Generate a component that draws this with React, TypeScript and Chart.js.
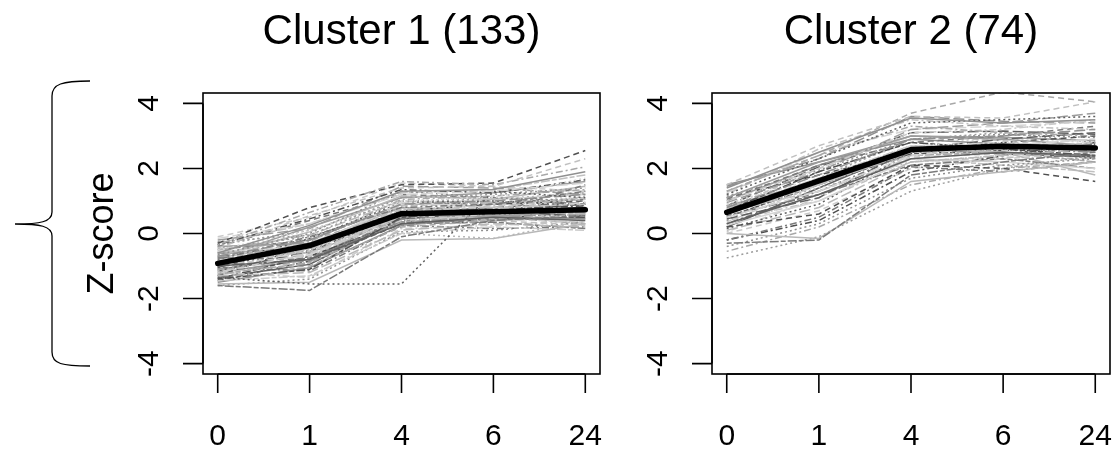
import React, { useEffect, useRef } from "react";
import { Chart, registerables } from "chart.js";

Chart.register(...registerables);

const timeLabels = ["0", "1", "4", "6", "24"];
const yTicks = [-4, -2, 0, 2, 4];
const cluster1Title = "Cluster 1 (133)";
const cluster2Title = "Cluster 2 (74)";
const yAxisTitle = "Z-score";

const cluster1Mean = [-0.92, -0.37, 0.61, 0.67, 0.73];
const cluster2Mean = [0.65, 1.62, 2.58, 2.68, 2.63];

const cluster1Profiles = [
  [-0.6, 0.25, 1.3, 1.35, 1.9],
  [-0.45, 0.55, 1.4, 1.45, 2.3],
  [-1.35, -1.55, -1.55, 1.3, 1.1],
  [-0.35, 0.65, 1.6, 1.5, 2.05],
  [-0.15, 0.3, 1.2, 1.3, 1.55],
  [-1.6, -1.75, -0.1, 0.4, 0.55],
  [-1.55, -1.5, -0.2, -0.15, 0.3],
  [-0.3, 0.8, 1.5, 1.55, 2.55],
  [-0.25, -0.05, 1.1, 1.2, 1.4],
  [-1.2, -0.6, 0.4, 0.6, 0.7],
  [-0.7, -0.2, 0.9, 1.0, 1.2],
  [-0.9, -0.4, 0.7, 0.8, 0.9],
  [-1.0, -0.8, 0.3, 0.5, 0.4],
  [-1.1, -1.0, 0.2, 0.4, 0.6],
  [-0.5, 0.1, 1.0, 1.1, 1.7],
  [-0.8, -0.1, 0.8, 0.9, 1.3],
  [-1.3, -1.2, 0.1, 0.3, 0.2],
  [-1.4, -1.1, 0.5, 0.7, 0.9],
  [-0.4, -0.3, 0.6, 0.5, 0.8],
  [-0.95, -0.7, 0.55, 0.45, 0.35],
  [-0.65, 0.0, 1.3, 1.1, 1.0],
  [-0.85, -0.5, 0.75, 0.85, 1.05],
  [-1.05, -0.3, 0.65, 0.75, 0.5],
  [-1.25, -0.9, 0.35, 0.55, 0.65],
  [-0.55, -0.4, 0.95, 0.8, 0.6],
  [-0.75, -0.8, 0.45, 0.6, 1.5],
  [-1.15, -0.45, 0.85, 0.95, 1.1],
  [-0.35, 0.45, 1.35, 1.25, 1.65],
  [-0.2, 0.15, 1.45, 1.4, 1.2],
  [-1.45, -1.3, 0.0, 0.2, 0.1],
  [-1.5, -1.05, 0.25, 0.5, 0.45],
  [-0.9, -0.55, 0.5, 0.4, 0.25],
  [-1.0, -0.15, 0.95, 1.0, 0.85],
  [-0.6, -0.25, 1.05, 1.15, 1.35],
  [-0.8, -0.65, 0.6, 0.7, 0.95],
  [-1.1, -0.75, 0.3, 0.35, 0.15],
  [-0.7, 0.05, 1.15, 1.05, 1.45],
  [-1.3, -0.35, 0.7, 0.9, 1.0],
  [-0.45, -0.1, 0.8, 0.65, 0.55],
  [-1.2, -1.35, 0.15, 0.25, 0.4],
  [-0.95, -0.85, 0.4, 0.45, 0.75],
  [-0.3, 0.3, 1.25, 1.35, 1.8],
  [-1.35, -0.95, 0.45, 0.65, 0.8],
  [-0.85, -0.2, 0.65, 0.5, 0.3],
  [-0.65, -0.5, 0.55, 0.7, 1.25],
  [-1.05, -1.15, 0.25, 0.15, 0.2],
  [-0.5, -0.05, 1.0, 0.95, 0.65],
  [-1.4, -0.7, 0.35, 0.45, 0.5],
  [-0.75, 0.2, 1.1, 1.25, 1.6],
  [-0.1, 0.5, 1.55, 1.45, 1.3],
  [-1.6, -1.4, 0.05, 0.1, 0.35],
  [-0.9, -0.3, 0.75, 0.65, 1.15],
  [-1.15, -0.55, 0.6, 0.8, 0.95],
  [-0.55, -0.6, 0.5, 0.55, 0.45],
  [-1.25, -0.45, 0.9, 1.05, 1.2],
  [-0.4, 0.4, 1.2, 1.1, 0.9],
  [-1.0, -0.9, 0.0, -0.15, 0.4],
  [-0.7, -0.35, 0.7, 0.75, 0.85],
  [-1.1, -0.6, 0.5, 0.55, 0.6],
  [-0.8, -0.45, 0.45, 0.5, 0.7],
  [-1.2, -0.8, 0.6, 0.7, 0.75],
  [-0.6, -0.15, 0.85, 0.9, 1.1],
  [-1.0, -0.5, 0.65, 0.6, 0.55],
  [-0.9, -0.95, 0.55, 0.6, 0.8],
  [-1.3, -0.65, 0.4, 0.5, 0.6],
  [-0.5, -0.2, 0.9, 0.95, 1.05],
  [-0.75, -0.3, 0.8, 0.7, 0.65],
  [-1.45, -0.85, 0.3, 0.45, 0.7],
  [-0.35, 0.1, 1.0, 1.05, 1.25],
  [-1.05, -0.4, 0.55, 0.75, 0.9],
  [-0.6, -0.7, 0.35, 0.4, 0.5],
  [-1.25, -1.05, 0.45, 0.55, 0.3],
];

const cluster2Profiles = [
  [1.4, 2.5, 3.55, 3.4, 3.5],
  [1.5, 2.7, 3.6, 3.55, 4.05],
  [1.2, 2.3, 3.4, 3.5, 3.6],
  [1.3, 2.4, 3.3, 3.1, 3.0],
  [0.5, 1.3, 2.4, 2.7, 2.9],
  [-0.3, -0.2, 1.8, 2.2, 2.5],
  [0.0, -0.15, 1.6, 1.9, 2.2],
  [0.2, 0.6, 2.1, 2.0, 1.6],
  [-0.75, -0.1, 1.3, 2.0, 2.4],
  [1.0, 2.0, 3.1, 3.2, 3.5],
  [0.8, 1.8, 2.9, 3.0, 3.2],
  [0.6, 1.5, 2.5, 2.6, 2.8],
  [0.3, 1.2, 2.3, 2.5, 2.4],
  [1.3, 2.4, 3.7, 4.35, 4.05],
  [0.9, 1.7, 2.7, 2.8, 2.6],
  [-0.2, 0.5, 2.05, 1.9, 2.2],
  [0.1, 0.8, 2.2, 2.4, 2.6],
  [0.7, 1.9, 2.8, 2.6, 2.4],
  [1.1, 2.2, 3.0, 2.9, 2.7],
  [0.0, 0.7, 2.0, 2.3, 2.5],
  [-0.4, 0.3, 1.7, 2.1, 2.3],
  [1.2, 2.6, 3.5, 3.3, 3.2],
  [0.45, 1.1, 2.6, 2.9, 3.1],
  [0.85, 1.6, 2.4, 2.5, 2.2],
  [0.25, 1.0, 2.3, 2.2, 2.0],
  [1.05, 2.1, 2.8, 3.0, 3.3],
  [0.65, 1.4, 2.2, 2.4, 2.7],
  [-0.2, 0.4, 1.9, 2.4, 2.8],
  [0.95, 1.9, 3.2, 3.4, 3.7],
  [0.35, 1.5, 2.7, 2.7, 2.9],
  [1.5, 2.2, 2.9, 2.75, 2.5],
  [0.75, 2.0, 3.0, 2.85, 2.6],
  [0.15, 0.9, 2.5, 2.6, 2.3],
  [-0.55, 0.2, 1.5, 2.0, 2.2],
  [1.25, 2.5, 3.2, 3.3, 3.45],
  [0.55, 1.2, 2.1, 2.3, 2.0],
  [0.8, 1.5, 2.6, 2.5, 1.8],
  [1.1, 1.8, 2.5, 2.8, 3.0],
  [0.4, 1.7, 2.9, 3.1, 2.8],
  [0.05, 1.1, 2.4, 2.55, 2.65],
  [1.45, 2.3, 3.6, 3.45, 3.4],
  [0.7, 1.3, 2.3, 2.1, 1.9],
  [0.2, 1.4, 2.6, 2.45, 2.35],
  [0.6, 1.6, 2.6, 2.7, 2.7],
  [0.9, 1.8, 2.8, 2.9, 2.8],
  [0.3, 1.3, 2.5, 2.6, 2.5],
  [0.75, 1.7, 2.7, 2.6, 2.55],
  [0.5, 1.5, 2.45, 2.55, 2.75],
  [1.0, 2.1, 3.0, 2.95, 2.85],
  [0.2, 1.2, 2.35, 2.45, 2.4],
  [1.15, 1.95, 2.9, 3.05, 2.95],
  [0.4, 1.0, 2.2, 2.35, 2.3],
  [0.85, 2.05, 3.1, 3.15, 3.05],
];

const grays = ["#909090", "#c0c0c0", "#606060", "#a8a8a8", "#d4d4d4", "#7a7a7a", "#b8b8b8", "#505050", "#9c9c9c", "#cacaca"];
const dashes: number[][] = [[], [6, 4], [2, 3], [2, 3, 7, 3], [11, 4], [5, 2, 9, 2]];

const FONT = '"Liberation Sans", Arial, Helvetica, sans-serif';

function makePlugin(title: string, withLeft: boolean) {
  return {
    id: "rStyle",
    afterDraw(chart: any) {
      const { ctx, chartArea: a, scales } = chart;
      const xs = scales.x;
      const ys = scales.y;
      ctx.save();
      ctx.strokeStyle = "#000";
      ctx.lineWidth = 1.6;
      ctx.strokeRect(a.left, a.top, a.right - a.left, a.bottom - a.top);
      ctx.beginPath();
      ctx.moveTo(a.left, ys.getPixelForValue(-4));
      ctx.lineTo(a.left, ys.getPixelForValue(4));
      yTicks.forEach((v) => {
        const y = ys.getPixelForValue(v);
        ctx.moveTo(a.left - 20, y);
        ctx.lineTo(a.left, y);
      });
      ctx.moveTo(xs.getPixelForValue(1), a.bottom);
      ctx.lineTo(xs.getPixelForValue(timeLabels.length), a.bottom);
      timeLabels.forEach((_, i) => {
        const x = xs.getPixelForValue(i + 1);
        ctx.moveTo(x, a.bottom);
        ctx.lineTo(x, a.bottom + 19);
      });
      ctx.stroke();

      ctx.fillStyle = "#000";
      ctx.textAlign = "center";
      ctx.textBaseline = "alphabetic";
      ctx.font = `30px ${FONT}`;
      timeLabels.forEach((l, i) => {
        ctx.fillText(l, xs.getPixelForValue(i + 1), a.bottom + 71);
      });
      yTicks.forEach((v) => {
        const y = ys.getPixelForValue(v);
        ctx.save();
        ctx.translate(a.left - 45, y);
        ctx.rotate(-Math.PI / 2);
        ctx.fillText(String(v), 0, 0);
        ctx.restore();
      });

      ctx.font = `42px ${FONT}`;
      ctx.fillText(title, (a.left + a.right) / 2, 44);

      if (withLeft) {
        ctx.font = `36px ${FONT}`;
        ctx.save();
        ctx.translate(a.left - 90, (a.top + a.bottom) / 2);
        ctx.rotate(-Math.PI / 2);
        ctx.fillText(yAxisTitle, 0, 0);
        ctx.restore();

        // curly brace
        ctx.lineWidth = 1.3;
        ctx.beginPath();
        ctx.moveTo(90, 81);
        ctx.bezierCurveTo(62, 81, 52, 84, 52, 96);
        ctx.lineTo(52, 212);
        ctx.bezierCurveTo(52, 222, 40, 224, 15, 224);
        ctx.bezierCurveTo(40, 224, 52, 226, 52, 236);
        ctx.lineTo(52, 352);
        ctx.bezierCurveTo(52, 364, 62, 366, 90, 366);
        ctx.stroke();
      }
      ctx.restore();
    },
  };
}

function Panel(props: {
  left: number;
  width: number;
  padLeft: number;
  padRight: number;
  profiles: number[][];
  mean: number[];
  title: string;
  withLeft: boolean;
}) {
  const ref = useRef<HTMLCanvasElement>(null);
  useEffect(() => {
    const toPts = (vals: number[]) => vals.map((y, i) => ({ x: i + 1, y }));
    const datasets: any[] = [
      {
        data: toPts(props.mean),
        borderColor: "#000",
        borderWidth: 5.5,
        order: 0,
        borderCapStyle: "round",
        borderJoinStyle: "round",
      },
      ...props.profiles.map((p, k) => ({
        data: toPts(p),
        borderColor: grays[k % grays.length],
        borderDash: dashes[k % dashes.length],
        borderWidth: 1.5,
        order: 1,
      })),
    ];
    const chart = new Chart(ref.current as HTMLCanvasElement, {
      type: "line",
      data: { datasets },
      options: {
        animation: false,
        responsive: false,
        devicePixelRatio: 1,
        events: [],
        layout: { padding: { left: props.padLeft, right: props.padRight, top: 93, bottom: 80 } },
        plugins: { legend: { display: false }, tooltip: { enabled: false }, title: { display: false } },
        elements: { point: { radius: 0 }, line: { tension: 0 } },
        scales: {
          x: { type: "linear", min: 0.84, max: 5.16, display: false },
          y: { type: "linear", min: -4.32, max: 4.32, display: false },
        },
      },
      plugins: [makePlugin(props.title, props.withLeft)],
    } as any);
    return () => chart.destroy();
  }, []);
  return (
    <canvas
      ref={ref}
      width={props.width}
      height={454}
      style={{ position: "absolute", left: props.left, top: 0, width: props.width, height: 454 }}
    />
  );
}

export default function App() {
  return (
    <div style={{ position: "absolute", left: 0, top: 0, width: 1117, height: 454, background: "#fff", overflow: "hidden" }}>
      <Panel left={0} width={610} padLeft={203} padRight={10} profiles={cluster1Profiles} mean={cluster1Mean} title={cluster1Title} withLeft={true} />
      <Panel left={610} width={507} padLeft={102} padRight={7} profiles={cluster2Profiles} mean={cluster2Mean} title={cluster2Title} withLeft={false} />
    </div>
  );
}
